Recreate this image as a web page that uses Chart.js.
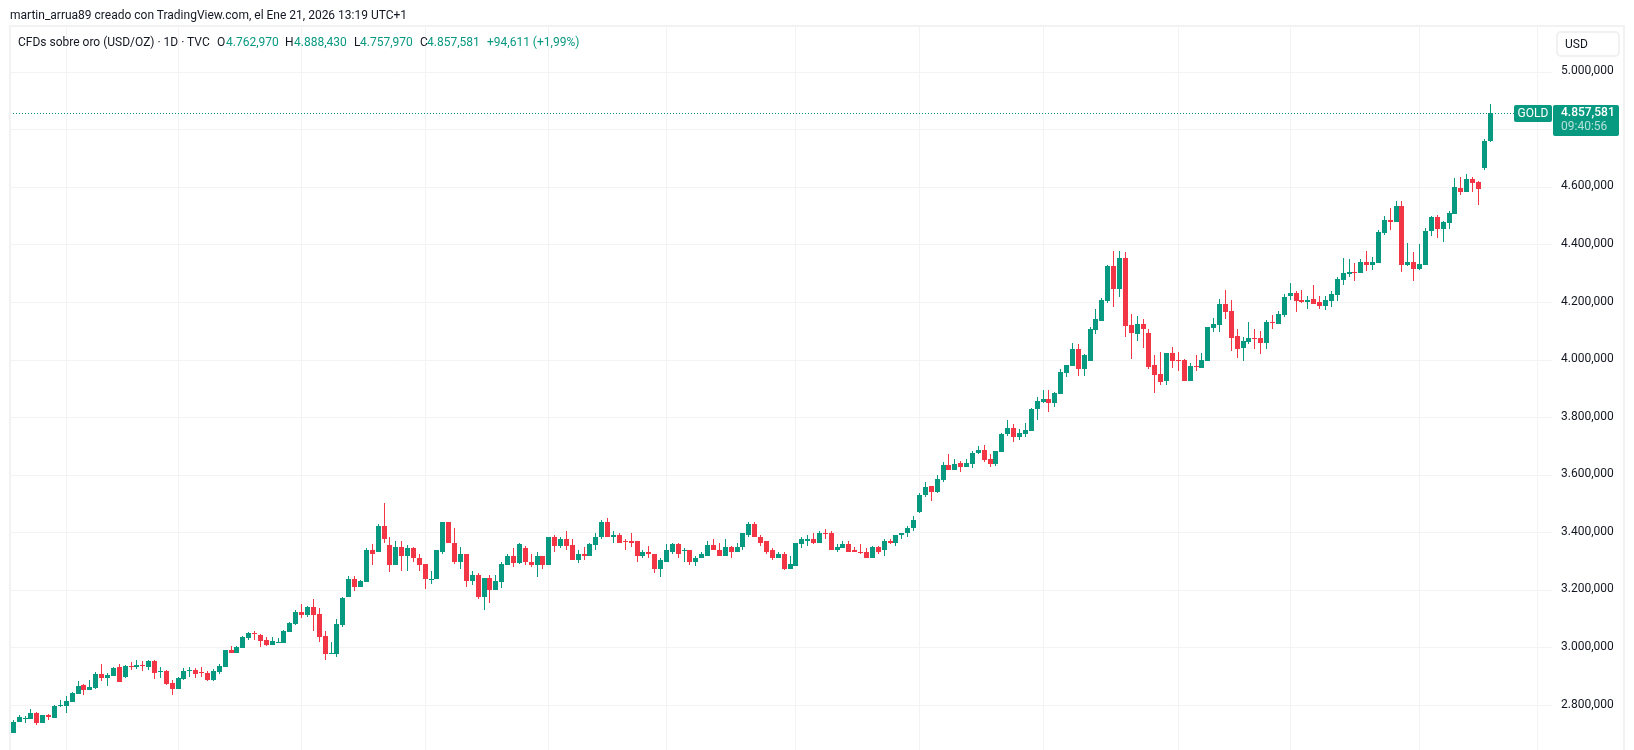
<!DOCTYPE html>
<html lang="es">
<head>
<meta charset="utf-8">
<title>CFDs sobre oro (USD/OZ)</title>
<script src="https://cdn.jsdelivr.net/npm/chart.js@4/dist/chart.umd.min.js"></script>
<style>
  html,body{margin:0;padding:0;background:#fff;overflow:hidden}
  #wrap{position:relative;width:1634px;height:750px;font-family:Roboto,sans-serif;color:#131722}
  canvas{position:absolute;left:0;top:0}
  .t{position:absolute;white-space:nowrap;font-size:12px;line-height:16px}
  .g{color:#089981}
  #usd{position:absolute;left:1556px;top:31px;width:60px;height:22px;border:2px solid #f1f1f1;border-radius:5px;font-size:12px;line-height:23px;text-indent:7px}
</style>
</head>
<body>
<div id="wrap">
  <canvas id="c" width="1634" height="750"></canvas>
  <div class="t" id="author" style="left:10px;top:7px"></div>
  <div class="t" id="title" style="left:18px;top:34px"></div>
  <div class="t" style="left:217px;top:34px">O</div><div class="t g" id="vo" style="left:226px;top:34px"></div>
  <div class="t" style="left:285px;top:34px">H</div><div class="t g" id="vh" style="left:294px;top:34px"></div>
  <div class="t" style="left:354px;top:34px">L</div><div class="t g" id="vl" style="left:360px;top:34px"></div>
  <div class="t" style="left:420px;top:34px">C</div><div class="t g" id="vc" style="left:427px;top:34px"></div>
  <div class="t g" id="chg" style="left:487px;top:34px"></div>
  <div id="usd">USD</div>
</div>
<script>
const authorText = "martin_arrua89 creado con TradingView.com, el Ene 21, 2026 13:19 UTC+1";
const titleText = "CFDs sobre oro (USD/OZ) · 1D · TVC";
const changeText = "+94,611 (+1,99%)";
const symbolTag = "GOLD";
const countdown = "09:40:56";
const currency = "USD";

const priceTicks = [2800,3000,3200,3400,3600,3800,4000,4200,4400,4600,4800,5000];
const monthTicks = [9,28,49,70,91,111,133,154,175,198,217,239,259];

const opens = [
2705,2742,2755,2753,2773,2739,2766,2756,2798,2798,
2812,2839,2871,2853,2860,2909,2895,2902,2933,2898,
2936,2933,2940,2933,2954,2916,2919,2877,2857,2891,
2920,2923,2916,2912,2888,2916,2933,2992,2982,2999,
3034,3053,3044,3027,3009,3016,3016,3054,3082,3124,
3113,3141,3117,3040,2980,2980,3081,3177,3239,3212,
3229,3342,3332,3425,3356,3287,3349,3318,3346,3314,
3290,3238,3238,3335,3436,3366,3300,3325,3234,3252,
3177,3243,3201,3229,3287,3318,3294,3346,3300,3287,
3318,3287,3384,3353,3377,3356,3307,3325,3321,3356,
3384,3436,3384,3391,3370,3370,3370,3321,3335,3328,
3273,3300,3335,3360,3339,3339,3300,3311,3321,3356,
3342,3321,3349,3335,3349,3394,3432,3387,3370,3339,
3311,3328,3273,3286,3360,3373,3380,3366,3401,3401,
3339,3346,3360,3339,3335,3335,3314,3349,3339,3373,
3363,3391,3398,3415,3473,3532,3563,3542,3584,3636,
3618,3643,3629,3639,3677,3688,3657,3639,3681,3743,
3764,3733,3743,3754,3830,3854,3865,3851,3882,3955,
3980,4038,3969,3997,4105,4136,4206,4327,4248,4355,
4123,4091,4126,4095,3984,3953,3928,4025,4001,4001,
3928,3980,3973,3998,4112,4123,4195,4171,4084,4043,
4064,4077,4077,4060,4133,4126,4156,4222,4232,4208,
4201,4212,4201,4187,4205,4225,4277,4298,4305,4302,
4340,4330,4336,4441,4486,4479,4534,4330,4340,4316,
4330,4448,4496,4454,4475,4507,4597,4583,4628,4618,
4666,4762.97];

const highs = [
2749,2766,2765,2787,2777,2766,2770,2801,2818,2832,
2846,2884,2874,2888,2916,2943,2912,2933,2943,2940,
2950,2957,2954,2957,2957,2933,2923,2888,2898,2929,
2933,2930,2933,2919,2926,2943,2992,3006,3006,3041,
3054,3058,3048,3037,3037,3034,3061,3089,3131,3152,
3145,3169,3138,3058,3022,3102,3178,3250,3250,3236,
3346,3360,3432,3502,3387,3370,3373,3356,3349,3328,
3290,3269,3339,3439,3439,3415,3349,3328,3266,3259,
3243,3253,3253,3297,3325,3346,3366,3353,3328,3332,
3318,3384,3394,3387,3405,3377,3339,3349,3363,3401,
3446,3453,3405,3401,3377,3401,3370,3339,3353,3328,
3311,3360,3363,3366,3346,3342,3318,3332,3370,3377,
3366,3380,3353,3363,3401,3436,3439,3394,3370,3346,
3335,3335,3318,3366,3387,3391,3401,3405,3412,3408,
3360,3373,3373,3349,3360,3346,3353,3353,3380,3377,
3394,3401,3425,3457,3539,3577,3563,3601,3646,3674,
3657,3650,3657,3684,3702,3705,3674,3684,3747,3792,
3778,3761,3782,3834,3872,3896,3896,3889,3969,3983,
4059,4056,4021,4115,4178,4216,4331,4380,4380,4376,
4161,4154,4143,4109,4018,4029,4025,4046,4029,4005,
3991,4018,4025,4116,4147,4213,4244,4209,4109,4081,
4133,4109,4102,4140,4157,4171,4229,4267,4239,4243,
4222,4260,4222,4222,4239,4288,4354,4350,4336,4350,
4378,4357,4451,4500,4527,4552,4552,4406,4375,4402,
4458,4500,4503,4482,4517,4632,4635,4645,4635,4621,
4767,4888.43];

const lows = [
2705,2742,2740,2753,2732,2739,2749,2756,2794,2773,
2812,2839,2836,2853,2857,2884,2867,2902,2881,2895,
2923,2926,2919,2923,2891,2895,2871,2836,2857,2888,
2898,2895,2898,2884,2884,2909,2933,2982,2982,2999,
3027,3027,3002,3006,3009,3016,3016,3054,3079,3103,
3107,3058,3020,2957,2980,2970,3074,3177,3198,3212,
3229,3287,3332,3366,3263,3287,3266,3269,3300,3269,
3205,3221,3238,3325,3363,3290,3276,3212,3218,3170,
3132,3156,3201,3208,3287,3280,3290,3287,3280,3248,
3273,3287,3335,3346,3342,3307,3294,3304,3318,3339,
3380,3384,3366,3363,3342,3349,3297,3314,3311,3259,
3248,3300,3328,3314,3297,3287,3283,3311,3321,3339,
3321,3321,3311,3332,3339,3384,3384,3353,3325,3304,
3311,3270,3273,3283,3346,3353,3360,3366,3377,3339,
3332,3346,3332,3335,3325,3314,3314,3328,3321,3360,
3353,3377,3387,3405,3469,3525,3511,3539,3577,3618,
3618,3612,3629,3625,3674,3646,3629,3632,3681,3736,
3716,3723,3733,3754,3792,3851,3820,3837,3882,3941,
3980,3945,3945,3997,4091,4136,4199,4185,4220,4081,
4005,4067,4043,3970,3887,3914,3914,3973,3963,3928,
3928,3963,3973,3998,4098,4098,4143,4032,4008,3998,
4057,4039,4022,4039,4109,4126,4149,4208,4166,4198,
4177,4194,4177,4173,4184,4205,4260,4288,4274,4302,
4309,4312,4336,4434,4451,4479,4305,4326,4274,4312,
4330,4430,4423,4409,4454,4507,4573,4583,4583,4538,
4659,4757.97];

const closes = [
2744,2759,2757,2773,2739,2766,2759,2798,2801,2815,
2843,2867,2853,2864,2909,2895,2905,2930,2881,2936,
2933,2940,2936,2954,2912,2919,2874,2857,2895,2919,
2924,2909,2912,2888,2919,2936,2992,2982,3002,3037,
3051,3050,3023,3009,3023,3020,3058,3086,3124,3113,
3141,3113,3037,2978,2984,3084,3175,3239,3212,3232,
3342,3325,3425,3377,3287,3349,3318,3346,3314,3287,
3238,3241,3339,3439,3363,3300,3328,3234,3252,3177,
3243,3201,3232,3290,3318,3294,3360,3297,3287,3318,
3287,3384,3353,3377,3353,3307,3325,3321,3360,3387,
3436,3384,3391,3366,3368,3366,3321,3335,3325,3273,
3304,3339,3360,3325,3342,3300,3314,3325,3356,3339,
3321,3349,3335,3349,3398,3432,3387,3366,3335,3311,
3328,3273,3290,3363,3377,3380,3366,3401,3398,3339,
3349,3360,3332,3335,3332,3314,3349,3335,3373,3363,
3394,3401,3418,3446,3532,3559,3542,3587,3636,3618,
3639,3629,3643,3677,3688,3653,3639,3684,3743,3764,
3733,3747,3757,3830,3858,3865,3851,3886,3959,3983,
4038,3969,4018,4108,4143,4209,4327,4248,4355,4119,
4095,4126,4109,3977,3949,3925,4025,3998,3998,3928,
3980,3978,4001,4116,4126,4195,4168,4077,4039,4067,
4077,4075,4060,4133,4130,4161,4218,4232,4205,4201,
4208,4194,4187,4208,4229,4281,4302,4305,4302,4340,
4330,4340,4444,4486,4479,4534,4330,4340,4316,4333,
4448,4496,4454,4479,4510,4600,4583,4628,4614,4593,
4763,4857.581];

const UP = "#089981", DOWN = "#F23645", GRID = "#f3f3f3", INK = "#131722";
const FONT = 'Roboto,sans-serif';

const fmt = v => {
  const [i, d] = Number(v).toFixed(3).split(".");
  return i.replace(/\B(?=(\d{3})+$)/g, ".") + "," + d;
};

const last = closes.length - 1;
document.getElementById("author").textContent = authorText;
document.getElementById("title").textContent = titleText;
document.getElementById("vo").textContent = fmt(opens[last]);
document.getElementById("vh").textContent = fmt(highs[last]);
document.getElementById("vl").textContent = fmt(lows[last]);
document.getElementById("vc").textContent = fmt(closes[last]);
document.getElementById("chg").textContent = changeText;
document.getElementById("usd").textContent = currency;

const colors = opens.map((o, i) => closes[i] >= o ? UP : DOWN);
const bodyData = opens.map((o, i) => ({x: i, y: [o, closes[i]]}));
const wickData = lows.map((l, i) => ({x: i, y: [l, highs[i]]}));

const X_MIN = -0.566, X_MAX = 261.5;

/* crisp candles: snap the library's computed bar geometry to device pixels */
const snapPlugin = {
  id: "snap",
  beforeDatasetsDraw(chart) {
    chart.getSortedVisibleDatasetMetas().forEach(meta => {
      if (meta.type === "bar") {
        meta.data.forEach(el => {
          el.x = Math.floor(el.x) + 0.5;
          const a = Math.round(el.y), b = Math.round(el.base);
          el.y = a;
          el.base = a === b ? b + 1 : b;
        });
      } else {
        meta.data.forEach(el => { el.y = Math.floor(el.y) + 0.5; });
      }
    });
  }
};

const framePlugin = {
  id: "frame",
  beforeDraw(chart) {
    const c = chart.ctx;
    c.save();
    c.fillStyle = "#fff";
    c.fillRect(0, 0, chart.width, chart.height);
    c.restore();
  },
  afterDraw(chart) {
    const c = chart.ctx, a = chart.chartArea;
    c.save();
    c.fillStyle = "#f2f2f2";
    c.fillRect(a.left - 1, a.top - 1, 1615, 2);
    c.fillRect(a.left - 1, a.top - 1, 2, 725);
    c.fillRect(1623, a.top - 1, 2, 725);
    const y = chart.scales.y.getPixelForValue(closes[last]);
    c.fillStyle = UP;
    c.beginPath(); c.roundRect(1514, y - 8.3, 38, 17, 2); c.fill();
    c.beginPath(); c.roundRect(1553, y - 8.3, 66, 31, 2); c.fill();
    c.textBaseline = "middle";
    c.font = "12px " + FONT;
    c.fillStyle = "#fff";
    c.textAlign = "center";
    c.fillText(symbolTag, 1533, y + 0.7);
    c.textAlign = "left";
    c.font = "500 12px " + FONT;
    c.fillText(fmt(closes[last]), 1561, y - 0.5);
    c.font = "12px " + FONT;
    c.fillStyle = "rgba(255,255,255,.7)";
    c.fillText(countdown, 1561, y + 13.7);
    c.restore();
  }
};

new Chart(document.getElementById("c"), {
  type: "bar",
  data: {
    datasets: [
      {type: "bar", label: "body", data: bodyData, backgroundColor: colors, barThickness: 5, grouped: false, inflateAmount: 0, borderWidth: 0, order: 1},
      {type: "bar", label: "wick", data: wickData, backgroundColor: colors, barThickness: 1, grouped: false, inflateAmount: 0, borderWidth: 0, order: 2},
      {type: "line", label: "last", data: [{x: X_MIN, y: closes[last]}, {x: X_MAX, y: closes[last]}], borderColor: UP, borderWidth: 1, borderDash: [1, 2], pointRadius: 0, order: 3}
    ]
  },
  options: {
    responsive: false,
    devicePixelRatio: 1,
    animation: false,
    layout: {autoPadding: false, padding: {left: 10, right: 9, top: 26, bottom: 0}},
    plugins: {legend: {display: false}, tooltip: {enabled: false}},
    scales: {
      x: {
        type: "linear", offset: false, min: X_MIN, max: X_MAX,
        afterBuildTicks: s => { s.ticks = monthTicks.map(v => ({value: v})); },
        afterFit: s => { s.height = 0; },
        ticks: {display: false},
        border: {display: false},
        grid: {color: GRID, drawTicks: false, lineWidth: 1, offset: false}
      },
      y: {
        type: "linear", position: "right", min: 2645.4, max: 5160.9,
        afterBuildTicks: s => { s.ticks = priceTicks.map(v => ({value: v})); },
        afterFit: s => { s.width = 73; s.paddingTop = 0; s.paddingBottom = 0; },
        ticks: {
          callback: v => fmt(v), color: INK, padding: 9, labelOffset: -1, font: {family: FONT, size: 12},
          autoSkip: false, maxRotation: 0
        },
        border: {display: false},
        grid: {color: GRID, drawTicks: false, lineWidth: 1}
      }
    }
  },
  plugins: [framePlugin, snapPlugin]
});
</script>
</body>
</html>
